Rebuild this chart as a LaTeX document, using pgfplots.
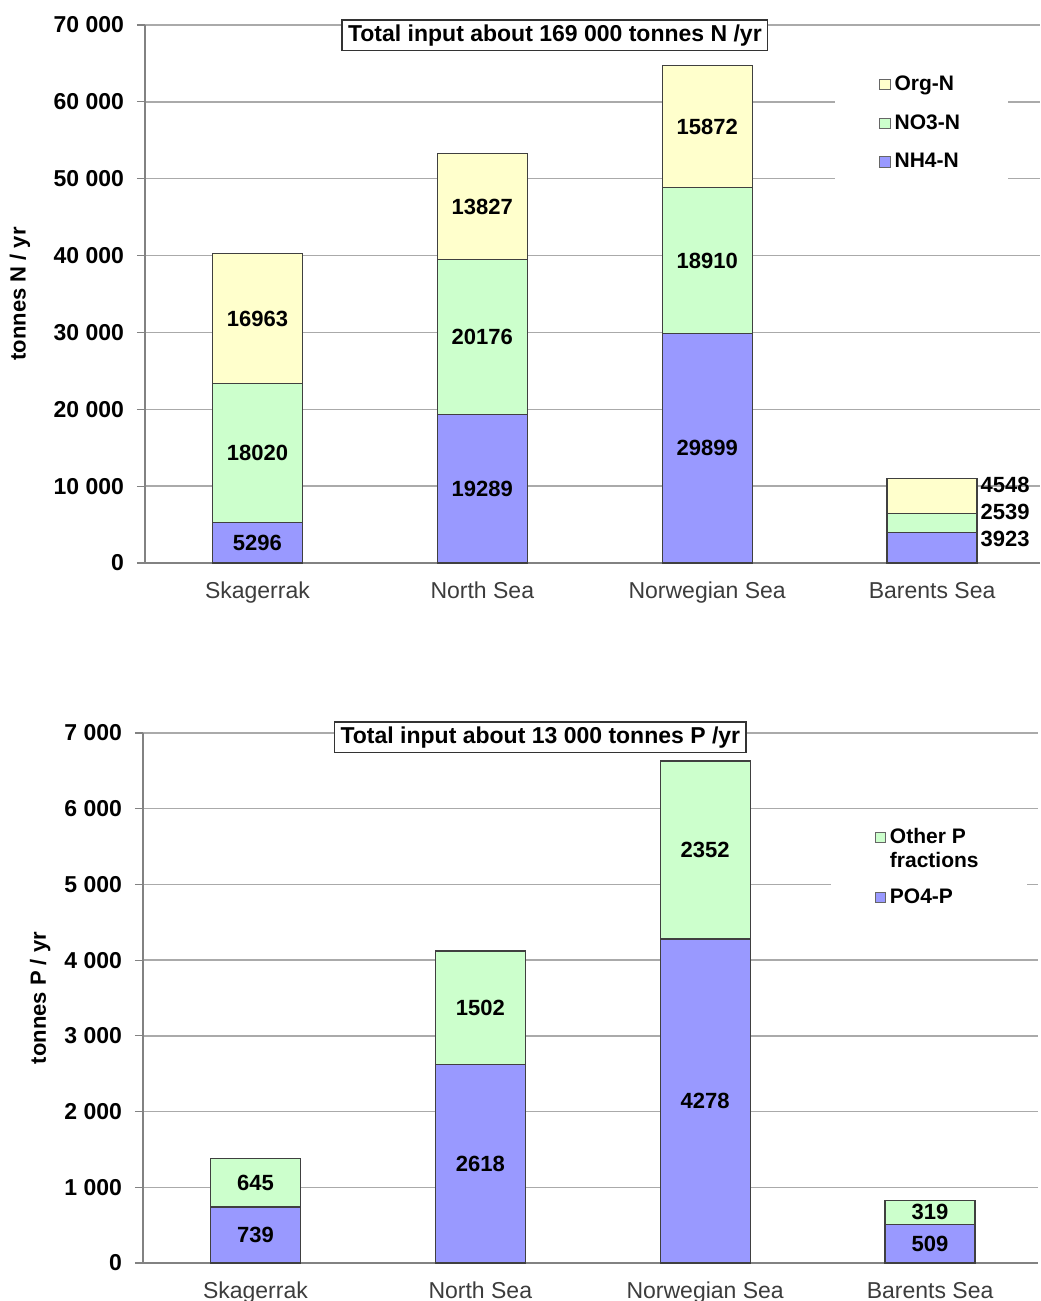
\documentclass[border=0pt]{standalone}
\usepackage{pgfplots}
\pgfplotsset{compat=1.18}
\usepackage{fontspec}
\setmainfont{Liberation Sans}
\definecolor{cblue}{RGB}{153,153,255}
\definecolor{cgreen}{RGB}{204,255,204}
\definecolor{cyellow}{RGB}{255,255,204}
\definecolor{cgrid}{RGB}{170,170,170}
\definecolor{caxis}{RGB}{130,130,130}
\definecolor{ccat}{RGB}{60,60,60}
\newcommand{\lbl}{\fontsize{11}{13}\selectfont\bfseries}
\pgfplotsset{
  upmark/.style={legend image code/.code={\draw[##1, line width=0.4pt, draw=black!60] (0pt,3.4pt) rectangle (5.2pt,8.6pt);}},
  mybar/.style={
    clip=false,
    ybar stacked, bar width=45pt, scale only axis,
    width=447.5pt,
    xmin=-0.5, xmax=3.48, ymin=0,
    scaled y ticks=false,
    axis x line*=bottom, axis y line*=left,
    axis line style={draw=caxis, line width=0.8pt},
    ymajorgrids, grid style={draw=cgrid, line width=0.7pt},
    tick align=outside,
    xtick={0,1,2,3},
    xticklabels={Skagerrak,North Sea,Norwegian Sea,Barents Sea},
    x tick label style={font=\fontsize{11.5}{13}\selectfont, text=ccat, yshift=-2pt},
    x tick style={draw=none},
    extra x ticks={0.5,1.5,2.5},
    extra x tick labels={},
    extra x tick style={xmajorgrids=false, major tick length=4pt, tick style={draw=caxis, line width=0.6pt}},
    y tick style={draw=caxis, line width=0.6pt},
    major tick length=4pt,
    y tick label style={font=\fontsize{11.5}{13}\selectfont\bfseries, xshift=-3pt},
    ylabel style={font=\fontsize{11}{13}\selectfont\bfseries, anchor=center},
    every axis plot/.append style={draw=black!75, line width=0.6pt},
    legend cell align=left,
    reverse legend,
    legend image code/.code={\draw[#1, line width=0.4pt, draw=black!60] (0pt,-2.6pt) rectangle (5.2pt,2.6pt);},
  }
}
\begin{document}
\begin{tikzpicture}
\path[use as bounding box] (0,0) rectangle (520pt,650.5pt);

% ---------------- Nitrogen ----------------
\begin{axis}[mybar,
  at={(72.5pt,369pt)}, anchor=south west,
  height=269pt, ymax=70000,
  ytick={0,10000,20000,30000,40000,50000,60000,70000},
  yticklabels={0,10 000,20 000,30 000,40 000,50 000,60 000,70 000},
  ylabel={tonnes N / yr},
  ylabel style={at={(axis description cs:-0.1397,0.5)}},
  legend style={at={(rel axis cs:0.771,0.925)}, anchor=north west, draw=none, fill=white,
    font=\fontsize{10.5}{12}\selectfont\bfseries, inner xsep=22pt, inner ysep=3pt,
    row sep=6.5pt},
]
\addplot[fill=cblue] coordinates {(0,5296) (1,19289) (2,29899) (3,3923)};
\addlegendentry{NH4-N}
\addplot[fill=cgreen] coordinates {(0,18020) (1,20176) (2,18910) (3,2539)};
\addlegendentry{NO3-N}
\addplot[fill=cyellow] coordinates {(0,16963) (1,13827) (2,15872) (3,4548)};
\addlegendentry{Org-N}
\coordinate (n1) at (axis cs:0,2648);
\coordinate (n2) at (axis cs:0,14306);
\coordinate (n3) at (axis cs:0,31798);
\coordinate (n4) at (axis cs:1,9645);
\coordinate (n5) at (axis cs:1,29377);
\coordinate (n6) at (axis cs:1,46379);
\coordinate (n7) at (axis cs:2,14950);
\coordinate (n8) at (axis cs:2,39354);
\coordinate (n9) at (axis cs:2,56745);
\coordinate (nb1) at (axis cs:3.205,10143);
\coordinate (nb2) at (axis cs:3.205,6632);
\coordinate (nb3) at (axis cs:3.205,3121);
\coordinate (nt) at (rel axis cs:0.458,0.981);
\end{axis}
\node[font=\lbl] at (n1) {5296};
\node[font=\lbl] at (n2) {18020};
\node[font=\lbl] at (n3) {16963};
\node[font=\lbl] at (n4) {19289};
\node[font=\lbl] at (n5) {20176};
\node[font=\lbl] at (n6) {13827};
\node[font=\lbl] at (n7) {29899};
\node[font=\lbl] at (n8) {18910};
\node[font=\lbl] at (n9) {15872};
\node[font=\lbl, anchor=west, inner sep=1pt] at (nb1) {4548};
\node[font=\lbl, anchor=west, inner sep=1pt] at (nb2) {2539};
\node[font=\lbl, anchor=west, inner sep=1pt] at (nb3) {3923};
\node[draw=black!80, line width=0.7pt, fill=white, font=\fontsize{11.5}{13}\selectfont\bfseries, inner xsep=3pt, inner ysep=2.3pt]
  at (nt) {Total input about 169 000 tonnes N /yr};

% ---------------- Phosphorus ----------------
\begin{axis}[mybar,
  at={(71.5pt,19pt)}, anchor=south west,
  height=265pt, ymax=7000,
  ytick={0,1000,2000,3000,4000,5000,6000,7000},
  yticklabels={0,1 000,2 000,3 000,4 000,5 000,6 000,7 000},
  ylabel={tonnes P / yr},
  ylabel style={at={(axis description cs:-0.115,0.5)}},
  legend style={at={(rel axis cs:0.768,0.84)}, anchor=north west, draw=none, fill=white,
    font=\fontsize{10.5}{12}\selectfont\bfseries, inner xsep=22pt, inner ysep=3pt,
    row sep=5pt, cells={align=left}},
]
\addplot[fill=cblue] coordinates {(0,739) (1,2618) (2,4278) (3,509)};
\addlegendentry{PO4-P}
\addplot[fill=cgreen, upmark] coordinates {(0,645) (1,1502) (2,2352) (3,319)};
\addlegendentry{Other P\\fractions}
\coordinate (p1) at (axis cs:0,369.5);
\coordinate (p2) at (axis cs:0,1061.5);
\coordinate (p3) at (axis cs:1,1309);
\coordinate (p4) at (axis cs:1,3369);
\coordinate (p5) at (axis cs:2,2139);
\coordinate (p6) at (axis cs:2,5454);
\coordinate (p7) at (axis cs:3,254.5);
\coordinate (p8) at (axis cs:3,668.5);
\coordinate (pt) at (rel axis cs:0.444,0.992);
\end{axis}
\node[font=\lbl] at (p1) {739};
\node[font=\lbl] at (p2) {645};
\node[font=\lbl] at (p3) {2618};
\node[font=\lbl] at (p4) {1502};
\node[font=\lbl] at (p5) {4278};
\node[font=\lbl] at (p6) {2352};
\node[font=\lbl] at (p7) {509};
\node[font=\lbl] at (p8) {319};
\node[draw=black!80, line width=0.7pt, fill=white, font=\fontsize{11.5}{13}\selectfont\bfseries, inner xsep=3pt, inner ysep=2.3pt]
  at (pt) {Total input about 13 000 tonnes P /yr};
\end{tikzpicture}
\end{document}
